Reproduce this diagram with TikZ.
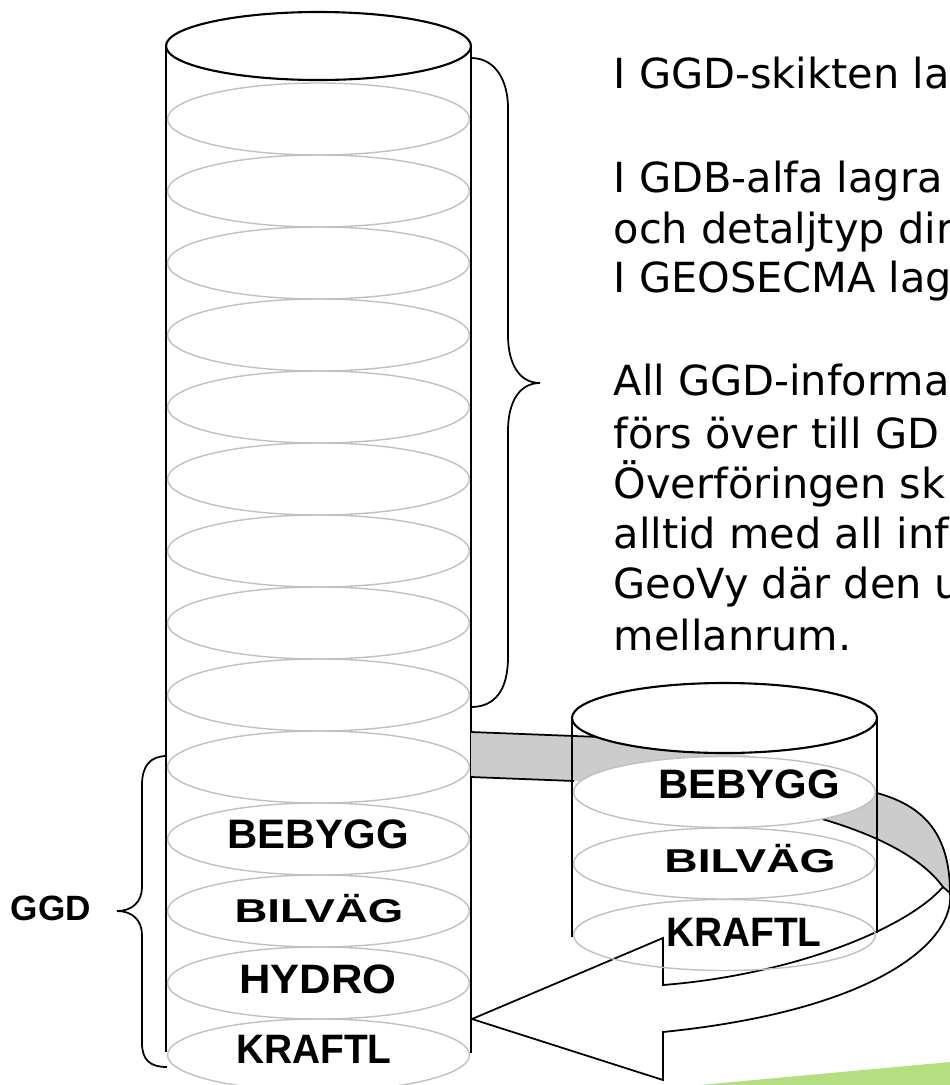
\documentclass[tikz,border=0pt]{standalone}
\usepackage{fontspec}
\usepackage{xcolor}
\usepackage{tikz}
\setsansfont{Liberation Sans}
\newfontfamily\notefont{DejaVu Sans}
\definecolor{slicegray}{RGB}{192,192,192}
\definecolor{bandgray}{RGB}{204,204,204}
\definecolor{leafgreen}{RGB}{181,222,128}
\tikzset{
  rim/.style={line width=0.6pt},
  wall/.style={line width=0.5pt},
  slice/.style={draw=slicegray, line width=0.4pt},
  bandline/.style={line width=0.5pt},
  tag/.style={font=\sffamily\bfseries\fontsize{11.7}{14}\selectfont, anchor=base, inner sep=0pt},
  smalltag/.style={tag, font=\sffamily\bfseries\fontsize{9.4}{11}\selectfont},
  note/.style={font=\notefont\fontsize{11.8}{14.5}\selectfont, anchor=base west, inner sep=0pt},
}

\begin{document}
\begin{tikzpicture}
\useasboundingbox (0,0) rectangle (9.5,-10.85);
\clip (0,0) rectangle (9.5,-10.85);

\fill[leafgreen] (7.00,-10.85) -- (9.50,-10.62) -- (9.50,-10.85) -- cycle;

\draw[wall] (1.66,-0.46) -- (1.66,-10.52);
\draw[wall] (4.71,-0.46) -- (4.71,-10.53);
\draw[slice] (3.185,-1.19) ellipse [x radius=1.51, y radius=0.36];
\draw[slice] (3.185,-1.91) ellipse [x radius=1.51, y radius=0.36];
\draw[slice] (3.185,-2.63) ellipse [x radius=1.51, y radius=0.36];
\draw[slice] (3.185,-3.35) ellipse [x radius=1.51, y radius=0.36];
\draw[slice] (3.185,-4.07) ellipse [x radius=1.51, y radius=0.36];
\draw[slice] (3.185,-4.79) ellipse [x radius=1.51, y radius=0.36];
\draw[slice] (3.185,-5.51) ellipse [x radius=1.51, y radius=0.36];
\draw[slice] (3.185,-6.23) ellipse [x radius=1.51, y radius=0.36];
\draw[slice] (3.185,-6.95) ellipse [x radius=1.51, y radius=0.36];
\draw[slice] (3.185,-7.67) ellipse [x radius=1.51, y radius=0.36];
\draw[slice] (3.185,-8.39) ellipse [x radius=1.51, y radius=0.36];
\draw[slice] (3.185,-9.11) ellipse [x radius=1.51, y radius=0.36];
\draw[slice] (3.185,-9.83) ellipse [x radius=1.51, y radius=0.36];
\draw[slice] (3.185,-10.55) ellipse [x radius=1.51, y radius=0.36];
\draw[rim, fill=white] (3.185,-0.46) ellipse [x radius=1.525, y radius=0.34];

\draw[wall] (4.71,-0.58) .. controls (4.95,-0.58) and (5.08,-0.80) .. (5.08,-1.08)
  -- (5.08,-3.35) .. controls (5.08,-3.65) and (5.20,-3.83) .. (5.40,-3.83)
  .. controls (5.20,-3.83) and (5.08,-4.01) .. (5.08,-4.31)
  -- (5.08,-6.57) .. controls (5.08,-6.90) and (4.95,-7.07) .. (4.71,-7.07);
\draw[wall] (1.67,-7.56) .. controls (1.50,-7.56) and (1.42,-7.66) .. (1.42,-7.85)
  -- (1.42,-8.87) .. controls (1.42,-9.02) and (1.32,-9.11) .. (1.17,-9.11)
  .. controls (1.32,-9.11) and (1.42,-9.20) .. (1.42,-9.35)
  -- (1.42,-10.43) .. controls (1.42,-10.60) and (1.50,-10.67) .. (1.67,-10.67);
\node[tag, font=\sffamily\bfseries\fontsize{10}{12}\selectfont] (ggd) at (0.51,-9.20) {GGD};

\fill[bandgray] (4.71,-7.32) -- (6.00,-7.37) .. controls (6.80,-7.40) and (8.00,-7.60) .. (8.77,-7.93)
  .. controls (9.20,-8.05) and (9.50,-8.30) .. (9.50,-8.93) -- (9.43,-8.87)
  .. controls (9.20,-8.55) and (8.70,-8.33) .. (8.22,-8.19)
  -- (5.77,-7.81) -- (4.71,-7.77) -- cycle;
\draw[bandline] (4.71,-7.32) -- (6.00,-7.37);
\draw[bandline] (4.71,-7.77) -- (5.74,-7.81);
\draw[bandline] (8.77,-7.93) .. controls (9.20,-8.05) and (9.50,-8.30) .. (9.50,-8.93);
\draw[bandline] (8.22,-8.19) .. controls (8.70,-8.33) and (9.20,-8.55) .. (9.43,-8.87);
\draw[bandline, fill=white] (9.43,-8.87) .. controls (9.05,-9.30) and (7.90,-9.75) .. (6.63,-9.85)
  -- (6.63,-9.38) -- (4.72,-10.19) -- (6.63,-10.80) -- (6.63,-10.32)
  .. controls (8.80,-10.10) and (9.55,-9.40) .. (9.50,-8.93) -- cycle;

\draw[wall] (5.72,-7.18) -- (5.72,-9.37);
\draw[wall] (8.77,-7.18) -- (8.77,-9.33);
\draw[slice, fill=white] (7.245,-7.92) ellipse [x radius=1.51, y radius=0.355];
\draw[slice] (7.245,-8.635) ellipse [x radius=1.51, y radius=0.355];
\draw[slice] (7.245,-9.35) ellipse [x radius=1.51, y radius=0.355];
\draw[rim, fill=white] (7.245,-7.18) ellipse [x radius=1.525, y radius=0.35];

\node[tag] (bigBebygg) at (3.18,-8.48) {\scalebox{1.02}[1]{BEBYGG}};
\node[smalltag] (bigBilvag) at (3.19,-9.22) {\scalebox{1.38}[1]{BILVÄG}};
\node[tag] (bigHydro) at (3.18,-9.93) {\scalebox{1.06}[1]{HYDRO}};
\node[tag] (bigKraftl) at (3.14,-10.63) {\scalebox{0.945}[1]{KRAFTL}};
\node[tag] (smallBebygg) at (7.49,-7.98) {\scalebox{1.02}[1]{BEBYGG}};
\node[smalltag] (smallBilvag) at (7.50,-8.72) {\scalebox{1.40}[1]{BILVÄG}};
\node[tag] (smallKraftl) at (7.44,-9.46) {\scalebox{0.945}[1]{KRAFTL}};

\node[note] (line1) at (6.13,-0.88) {I GGD-skikten la};
\node[note] (line2) at (6.13,-1.92) {I GDB-alfa lagra};
\node[note] (line3) at (6.13,-2.43) {och detaljtyp dir};
\node[note] (line4) at (6.13,-2.92) {I GEOSECMA lag};
\node[note] (line5) at (6.13,-3.95) {All GGD-informa};
\node[note] (line6) at (6.13,-4.48) {förs över till GD};
\node[note] (line7) at (6.13,-4.98) {Överföringen sk};
\node[note] (line8) at (6.13,-5.48) {alltid med all inf};
\node[note] (line9) at (6.13,-5.98) {GeoVy där den u};
\node[note] (line10) at (6.13,-6.50) {mellanrum.};
\end{tikzpicture}
\end{document}
